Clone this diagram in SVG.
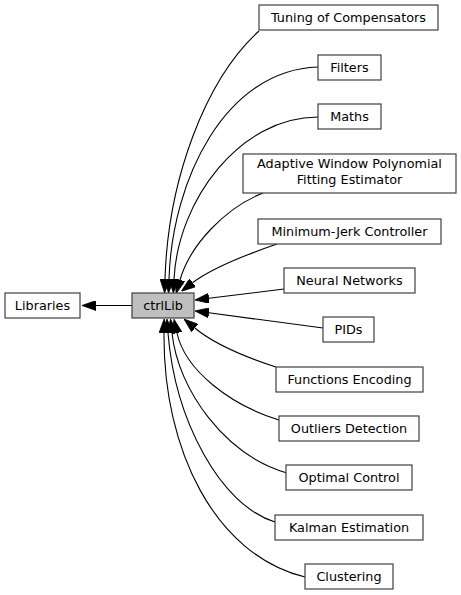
<svg xmlns="http://www.w3.org/2000/svg" width="461" height="595" viewBox="0 0 461 595">
<style>
.n rect{fill:#ffffff;stroke:#404040;stroke-width:1.2}
.n.cur rect{fill:#bfbfbf}
.n text{font-family:"DejaVu Sans",sans-serif;font-size:12.8px;fill:#000;text-anchor:middle}
.e path{fill:none;stroke:#000;stroke-width:1.1;marker-end:url(#ah)}
</style>
<defs>
<marker id="ah" viewBox="0 0 14 10" refX="0" refY="5" markerWidth="14" markerHeight="10" markerUnits="userSpaceOnUse" orient="auto">
<path d="M0,0 L14,5 L0,10 z" fill="#000" stroke="#000" stroke-width="0.8"/>
</marker>
</defs>
<rect width="461" height="595" fill="#fff"/>
<g id="edges" class="e">
<path d="M132,305.5 L96,305.5"/>
<path d="M259,31 C205,80 168,180 165,279"/>
<path d="M318,67 C225,70 172,180 169,279"/>
<path d="M318,117 C240,117 178,200 174,279"/>
<path d="M263,193 C225,208 190,245 180,280"/>
<path d="M277,244 C245,255 212,268 192.5,282.8"/>
<path d="M284,289 L208.9,298.3"/>
<path d="M323,328 L208.9,312.8"/>
<path d="M276,367 C245,357 213,343 194.8,328"/>
<path d="M279,420 C230,405 185,370 177,333"/>
<path d="M287,473 C225,455 178,390 172,333"/>
<path d="M275,522 C220,505 175,420 168,333"/>
<path d="M305,577 C215,555 163,450 164,333"/>
</g>
<g id="libraries" class="n"><rect x="5" y="293" width="75" height="25"/><text x="42.5" y="310">Libraries</text></g>
<g id="ctrllib" class="n cur"><rect x="132" y="293" width="62" height="25"/><text x="163" y="310">ctrlLib</text></g>
<g id="tuning" class="n"><rect x="259" y="5" width="179" height="25"/><text x="348.5" y="21.5">Tuning of Compensators</text></g>
<g id="filters" class="n"><rect x="318" y="55" width="63" height="25"/><text x="349.5" y="71.5">Filters</text></g>
<g id="maths" class="n"><rect x="318" y="104" width="63" height="25"/><text x="349.5" y="120.5">Maths</text></g>
<g id="adaptive" class="n"><rect x="243" y="154" width="213" height="39"/><text x="349.5" y="168">Adaptive Window Polynomial</text><text x="349.5" y="184">Fitting Estimator</text></g>
<g id="minjerk" class="n"><rect x="258" y="219" width="183" height="25"/><text x="349.5" y="235.5">Minimum-Jerk Controller</text></g>
<g id="neural" class="n"><rect x="284" y="268" width="131" height="25"/><text x="349.5" y="284.5">Neural Networks</text></g>
<g id="pids" class="n"><rect x="323" y="317" width="51" height="25"/><text x="348.5" y="333.5">PIDs</text></g>
<g id="funcenc" class="n"><rect x="276" y="367" width="147" height="25"/><text x="349.5" y="383.5">Functions Encoding</text></g>
<g id="outliers" class="n"><rect x="279" y="416" width="140" height="25"/><text x="349" y="432.5">Outliers Detection</text></g>
<g id="optimal" class="n"><rect x="286" y="465" width="126" height="25"/><text x="349" y="481.5">Optimal Control</text></g>
<g id="kalman" class="n"><rect x="275" y="515" width="148" height="25"/><text x="349" y="531.5">Kalman Estimation</text></g>
<g id="clustering" class="n"><rect x="305" y="564" width="88" height="25"/><text x="349" y="580.5">Clustering</text></g>
</svg>
